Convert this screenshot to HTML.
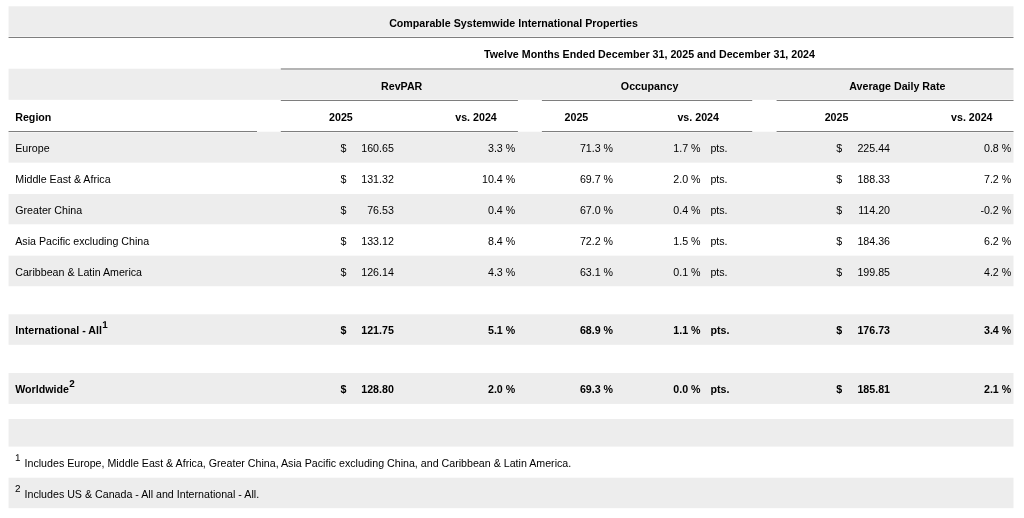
<!DOCTYPE html>
<html><head><meta charset="utf-8"><title>Comparable Systemwide International Properties</title>
<style>
html,body{margin:0;padding:0;background:#fff;}
body{width:1024px;height:518px;overflow:hidden;position:relative;font-family:"Liberation Sans",sans-serif;font-size:10.667px;color:#000;}
.bg{position:absolute;left:0;top:0;}
.t{position:absolute;white-space:nowrap;line-height:12px;height:12px;}
.sb{font-size:9.9px;text-rendering:geometricPrecision;position:relative;top:-6px;margin-left:0.4px;}
.sn{font-size:9.9px;text-rendering:geometricPrecision;position:relative;top:-6px;margin-left:-0.2px;margin-right:1.0px;}
</style></head><body>
<svg class="bg" width="1024" height="518" viewBox="0 0 1024 518">
<rect x="8.55" y="6.30" width="1004.95" height="29.70" fill="#ededed"/>
<rect x="8.55" y="68.70" width="1004.95" height="31.10" fill="#ededed"/>
<rect x="8.55" y="131.70" width="1004.95" height="30.95" fill="#ededed"/>
<rect x="8.55" y="194.00" width="1004.95" height="30.30" fill="#ededed"/>
<rect x="8.55" y="255.65" width="1004.95" height="30.60" fill="#ededed"/>
<rect x="8.55" y="314.30" width="1004.95" height="30.50" fill="#ededed"/>
<rect x="8.55" y="373.00" width="1004.95" height="30.90" fill="#ededed"/>
<rect x="8.55" y="419.00" width="1004.95" height="27.60" fill="#ededed"/>
<rect x="8.55" y="477.70" width="1004.95" height="30.50" fill="#ededed"/>
<rect x="8.55" y="36.00" width="1004.95" height="1.00" fill="#f4f4f4"/>
<rect x="8.55" y="37.00" width="1004.95" height="1.00" fill="#7e7e7e"/>
<rect x="280.80" y="67.90" width="732.70" height="2.20" fill="#fff"/>
<rect x="280.80" y="68.00" width="732.70" height="2.00" fill="#b4b4b4"/>
<rect x="280.80" y="99.00" width="237.10" height="1.00" fill="#f4f4f4"/>
<rect x="280.80" y="100.00" width="237.10" height="1.00" fill="#7e7e7e"/>
<rect x="280.80" y="131.00" width="237.10" height="1.00" fill="#7e7e7e"/>
<rect x="280.80" y="132.00" width="237.10" height="1.00" fill="#f4f4f4"/>
<rect x="541.90" y="99.00" width="210.30" height="1.00" fill="#f4f4f4"/>
<rect x="541.90" y="100.00" width="210.30" height="1.00" fill="#7e7e7e"/>
<rect x="541.90" y="131.00" width="210.30" height="1.00" fill="#7e7e7e"/>
<rect x="541.90" y="132.00" width="210.30" height="1.00" fill="#f4f4f4"/>
<rect x="776.60" y="99.00" width="236.90" height="1.00" fill="#f4f4f4"/>
<rect x="776.60" y="100.00" width="236.90" height="1.00" fill="#7e7e7e"/>
<rect x="776.60" y="131.00" width="236.90" height="1.00" fill="#7e7e7e"/>
<rect x="776.60" y="132.00" width="236.90" height="1.00" fill="#f4f4f4"/>
<rect x="8.55" y="131.00" width="248.45" height="1.00" fill="#7e7e7e"/>
<rect x="8.55" y="132.00" width="248.45" height="1.00" fill="#f4f4f4"/>
</svg>
<div class="t" style="top:17px;left:313.50px;width:400px;text-align:center;font-weight:bold;">Comparable Systemwide International Properties</div>
<div class="t" style="top:48px;left:449.50px;width:400px;text-align:center;font-weight:bold;">Twelve Months Ended December 31, 2025 and December 31, 2024</div>
<div class="t" style="top:80px;left:201.70px;width:400px;text-align:center;font-weight:bold;">RevPAR</div>
<div class="t" style="top:80px;left:449.60px;width:400px;text-align:center;font-weight:bold;">Occupancy</div>
<div class="t" style="top:80px;left:697.40px;width:400px;text-align:center;font-weight:bold;">Average Daily Rate</div>
<div class="t" style="top:111px;left:15.25px;font-weight:bold;">Region</div>
<div class="t" style="top:111px;left:140.90px;width:400px;text-align:center;font-weight:bold;">2025</div>
<div class="t" style="top:111px;left:276.00px;width:400px;text-align:center;font-weight:bold;">vs. 2024</div>
<div class="t" style="top:111px;left:376.40px;width:400px;text-align:center;font-weight:bold;">2025</div>
<div class="t" style="top:111px;left:498.20px;width:400px;text-align:center;font-weight:bold;">vs. 2024</div>
<div class="t" style="top:111px;left:636.50px;width:400px;text-align:center;font-weight:bold;">2025</div>
<div class="t" style="top:111px;left:771.80px;width:400px;text-align:center;font-weight:bold;">vs. 2024</div>
<div class="t" style="top:142px;left:15.25px;">Europe</div>
<div class="t" style="top:142px;left:340.50px;">$</div>
<div class="t" style="top:142px;right:630.20px;">160.65</div>
<div class="t" style="top:142px;right:508.80px;">3.3 %</div>
<div class="t" style="top:142px;right:410.90px;">71.3 %</div>
<div class="t" style="top:142px;right:323.50px;">1.7 %</div>
<div class="t" style="top:142px;left:710.40px;">pts.</div>
<div class="t" style="top:142px;left:836.30px;">$</div>
<div class="t" style="top:142px;right:134.00px;">225.44</div>
<div class="t" style="top:142px;right:12.80px;">0.8 %</div>
<div class="t" style="top:173px;left:15.25px;">Middle East &amp; Africa</div>
<div class="t" style="top:173px;left:340.50px;">$</div>
<div class="t" style="top:173px;right:630.20px;">131.32</div>
<div class="t" style="top:173px;right:508.80px;">10.4 %</div>
<div class="t" style="top:173px;right:410.90px;">69.7 %</div>
<div class="t" style="top:173px;right:323.50px;">2.0 %</div>
<div class="t" style="top:173px;left:710.40px;">pts.</div>
<div class="t" style="top:173px;left:836.30px;">$</div>
<div class="t" style="top:173px;right:134.00px;">188.33</div>
<div class="t" style="top:173px;right:12.80px;">7.2 %</div>
<div class="t" style="top:204px;left:15.25px;">Greater China</div>
<div class="t" style="top:204px;left:340.50px;">$</div>
<div class="t" style="top:204px;right:630.20px;">76.53</div>
<div class="t" style="top:204px;right:508.80px;">0.4 %</div>
<div class="t" style="top:204px;right:410.90px;">67.0 %</div>
<div class="t" style="top:204px;right:323.50px;">0.4 %</div>
<div class="t" style="top:204px;left:710.40px;">pts.</div>
<div class="t" style="top:204px;left:836.30px;">$</div>
<div class="t" style="top:204px;right:134.00px;">114.20</div>
<div class="t" style="top:204px;right:12.80px;">-0.2 %</div>
<div class="t" style="top:235px;left:15.25px;">Asia Pacific excluding China</div>
<div class="t" style="top:235px;left:340.50px;">$</div>
<div class="t" style="top:235px;right:630.20px;">133.12</div>
<div class="t" style="top:235px;right:508.80px;">8.4 %</div>
<div class="t" style="top:235px;right:410.90px;">72.2 %</div>
<div class="t" style="top:235px;right:323.50px;">1.5 %</div>
<div class="t" style="top:235px;left:710.40px;">pts.</div>
<div class="t" style="top:235px;left:836.30px;">$</div>
<div class="t" style="top:235px;right:134.00px;">184.36</div>
<div class="t" style="top:235px;right:12.80px;">6.2 %</div>
<div class="t" style="top:266px;left:15.25px;">Caribbean &amp; Latin America</div>
<div class="t" style="top:266px;left:340.50px;">$</div>
<div class="t" style="top:266px;right:630.20px;">126.14</div>
<div class="t" style="top:266px;right:508.80px;">4.3 %</div>
<div class="t" style="top:266px;right:410.90px;">63.1 %</div>
<div class="t" style="top:266px;right:323.50px;">0.1 %</div>
<div class="t" style="top:266px;left:710.40px;">pts.</div>
<div class="t" style="top:266px;left:836.30px;">$</div>
<div class="t" style="top:266px;right:134.00px;">199.85</div>
<div class="t" style="top:266px;right:12.80px;">4.2 %</div>
<div class="t" style="top:324px;left:15.25px;font-weight:bold;">International - All<span class="sb">1</span></div>
<div class="t" style="top:324px;left:340.50px;font-weight:bold;">$</div>
<div class="t" style="top:324px;right:630.20px;font-weight:bold;">121.75</div>
<div class="t" style="top:324px;right:508.80px;font-weight:bold;">5.1 %</div>
<div class="t" style="top:324px;right:410.90px;font-weight:bold;">68.9 %</div>
<div class="t" style="top:324px;right:323.50px;font-weight:bold;">1.1 %</div>
<div class="t" style="top:324px;left:710.40px;font-weight:bold;">pts.</div>
<div class="t" style="top:324px;left:836.30px;font-weight:bold;">$</div>
<div class="t" style="top:324px;right:134.00px;font-weight:bold;">176.73</div>
<div class="t" style="top:324px;right:12.80px;font-weight:bold;">3.4 %</div>
<div class="t" style="top:383px;left:15.25px;font-weight:bold;">Worldwide<span class="sb">2</span></div>
<div class="t" style="top:383px;left:340.50px;font-weight:bold;">$</div>
<div class="t" style="top:383px;right:630.20px;font-weight:bold;">128.80</div>
<div class="t" style="top:383px;right:508.80px;font-weight:bold;">2.0 %</div>
<div class="t" style="top:383px;right:410.90px;font-weight:bold;">69.3 %</div>
<div class="t" style="top:383px;right:323.50px;font-weight:bold;">0.0 %</div>
<div class="t" style="top:383px;left:710.40px;font-weight:bold;">pts.</div>
<div class="t" style="top:383px;left:836.30px;font-weight:bold;">$</div>
<div class="t" style="top:383px;right:134.00px;font-weight:bold;">185.81</div>
<div class="t" style="top:383px;right:12.80px;font-weight:bold;">2.1 %</div>
<div class="t" style="top:457px;left:15.25px;"><span class="sn">1</span> Includes Europe, Middle East &amp; Africa, Greater China, Asia Pacific excluding China, and Caribbean &amp; Latin America.</div>
<div class="t" style="top:488px;left:15.25px;"><span class="sn">2</span> Includes US &amp; Canada - All and International - All.</div>
</body></html>
